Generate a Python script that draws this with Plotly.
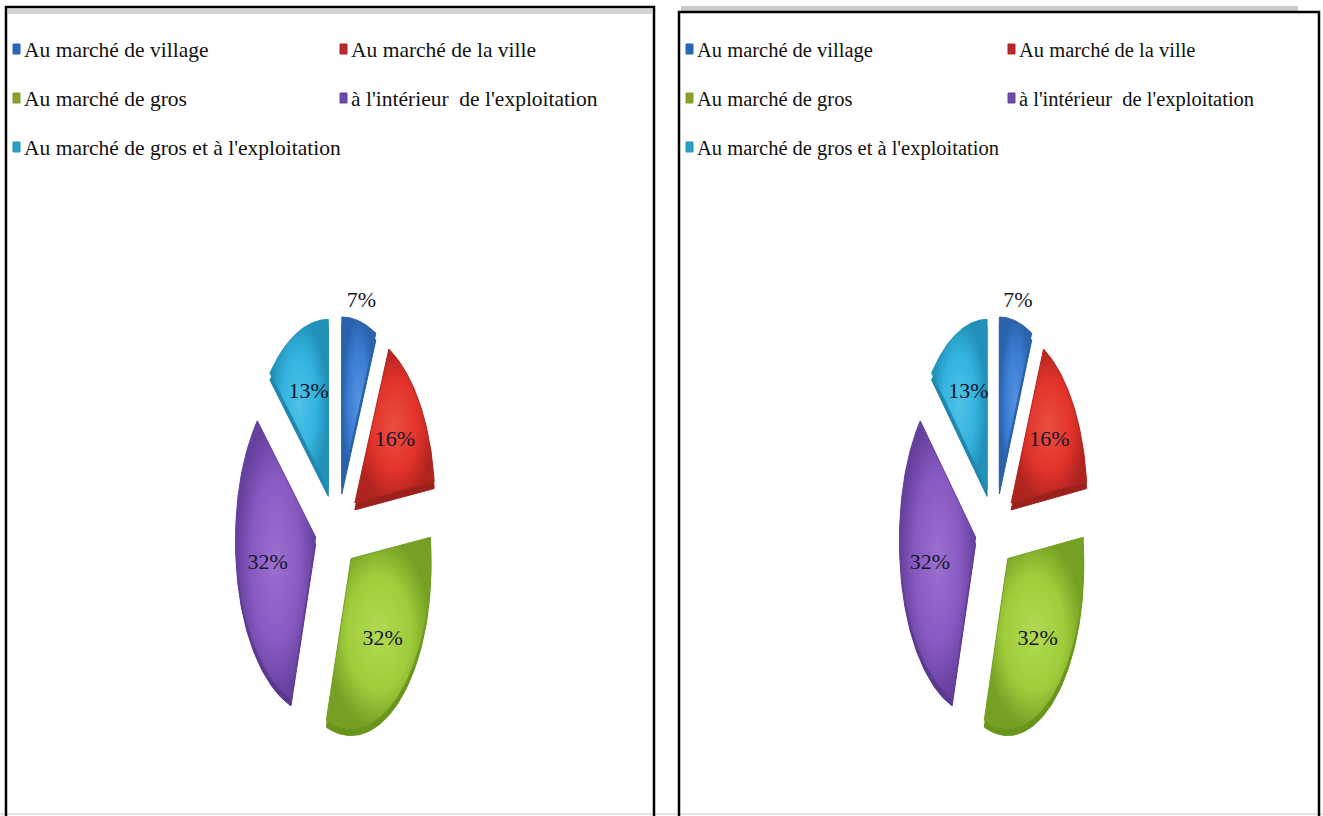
import numpy as np
import plotly.graph_objects as go

# ---- data -------------------------------------------------------------
categories = [
    "Au marché de village",
    "Au marché de la ville",
    "Au marché de gros",
    "à l'intérieur  de l'exploitation",
    "Au marché de gros et à l'exploitation",
]
shares = [7, 16, 32, 32, 13]

# ---- styling ----------------------------------------------------------
face_colors = ["#3b7dd4", "#e2332a", "#a0cd3b", "#885ac2", "#33b3de"]
light_colors = ["#5593e0", "#ea4e41", "#b2da52", "#9a70cf", "#4fc2e8"]
edge_colors = ["#2a62ac", "#b0241f", "#76a024", "#65409c", "#2290b8"]
side_colors = ["#2b5fa6", "#9c211c", "#6a951c", "#5a3890", "#2086ab"]
legend_colors = ["#2a66b8", "#b8282e", "#8e9e2e", "#6a4aa6", "#2aa2c8"]

W, H = 1323, 816
SERIF = "Liberation Serif, Times New Roman, serif"

# panel geometry in pixels
panels = [
    dict(dom=(0.0, 0.5), cx=337, cy=527, rx=80, ry=170, ex=22, ey=41,
         leg_x=(13, 340), leg_font=21.5),
    dict(dom=(0.5, 1.0), cx=995, cy=527, rx=76, ry=170, ex=20, ey=41,
         leg_x=(686, 1008), leg_font=20.5),
]
legend_rows_y = [49, 98, 147]
depth_px = 7

fig = go.Figure()
shapes, annotations = [], []


def px_x(x):
    return x / W


def px_y(y):
    return 1 - y / H


for k, p in enumerate(panels):
    suffix = "" if k == 0 else str(k + 1)
    xa, ya = "x" + suffix, "y" + suffix
    d0 = p["dom"][0] * W
    d1 = p["dom"][1] * W
    xr = [(d0 - p["cx"]) / p["rx"], (d1 - p["cx"]) / p["rx"]]
    yr = [-(H - p["cy"]) / p["ry"], p["cy"] / p["ry"]]
    fig.layout["xaxis" + suffix] = dict(domain=list(p["dom"]), range=xr,
                                        visible=False, fixedrange=True,
                                        anchor=ya)
    fig.layout["yaxis" + suffix] = dict(domain=[0, 1], range=yr,
                                        visible=False, fixedrange=True,
                                        anchor=xa)

    total = float(sum(shares))
    start = 0.0
    sides, faces, texts = [], [], []
    for i, v in enumerate(shares):
        t0 = 2 * np.pi * start / total
        t1 = 2 * np.pi * (start + v) / total
        mid = 0.5 * (t0 + t1)
        start += v
        ox = p["ex"] / p["rx"] * np.sin(mid)
        oy = p["ey"] / p["ry"] * np.cos(mid)
        th = np.linspace(t0, t1, 80)
        xs = np.concatenate([[ox], ox + np.sin(th), [ox]])
        ys = np.concatenate([[oy], oy + np.cos(th), [oy]])
        dz = depth_px / p["ry"]
        sides.append(go.Scatter(
            x=xs, y=ys - dz, xaxis=xa, yaxis=ya, mode="lines",
            fill="toself", fillcolor=side_colors[i],
            line=dict(color=side_colors[i], width=1),
            showlegend=False, hoverinfo="skip"))
        faces.append(go.Scatter(
            x=xs, y=ys, xaxis=xa, yaxis=ya, mode="lines",
            fill="toself",
            fillgradient=dict(type="radial",
                              colorscale=[[0, light_colors[i]],
                                          [0.6, face_colors[i]],
                                          [1, edge_colors[i]]]),
            line=dict(color=edge_colors[i], width=1),
            name=categories[i], showlegend=False,
            hovertemplate=categories[i] + ": %{customdata}%<extra></extra>",
            customdata=[v] * len(xs)))
        r = 1.12 if v < 10 else 0.62
        texts.append((ox + r * np.sin(mid), oy + r * np.cos(mid), f"{v}%"))

    for tr in sides + faces:
        fig.add_trace(tr)
    fig.add_trace(go.Scatter(
        x=[t[0] for t in texts], y=[t[1] for t in texts],
        text=[t[2] for t in texts], xaxis=xa, yaxis=ya, mode="text",
        textfont=dict(family=SERIF, size=22, color="#16162c"),
        showlegend=False, hoverinfo="skip"))

    # legend: two columns, three rows
    for i, name in enumerate(categories):
        col, row = i % 2, i // 2
        mx = p["leg_x"][col]
        my = legend_rows_y[row]
        shapes.append(dict(type="rect", xref="paper", yref="paper",
                           x0=px_x(mx), x1=px_x(mx + 7),
                           y0=px_y(my + 5), y1=px_y(my - 5),
                           fillcolor=legend_colors[i],
                           line=dict(color=edge_colors[i], width=1)))
        annotations.append(dict(xref="paper", yref="paper",
                                x=px_x(mx + 9), y=px_y(my + 1),
                                xanchor="left", yanchor="middle",
                                text=name, showarrow=False,
                                font=dict(family=SERIF, size=p["leg_font"],
                                          color="#111111")))

# panel frames and shading strips
frame = dict(color="#000000", width=2.5)
shapes += [
    dict(type="rect", xref="paper", yref="paper",
         x0=px_x(8), x1=px_x(652), y0=px_y(14), y1=px_y(9),
         fillcolor="#d4d4d4", line=dict(width=0), layer="below"),
    dict(type="rect", xref="paper", yref="paper",
         x0=px_x(681), x1=px_x(1298), y0=px_y(11), y1=px_y(6),
         fillcolor="#cacaca", line=dict(width=0), layer="below"),
    dict(type="line", xref="paper", yref="paper",
         x0=0, x1=1, y0=px_y(814), y1=px_y(814),
         line=dict(color="#e3e3e3", width=2), layer="below"),
    dict(type="rect", xref="paper", yref="paper",
         x0=px_x(6), x1=px_x(654), y0=px_y(7), y1=px_y(830),
         line=frame),
    dict(type="rect", xref="paper", yref="paper",
         x0=px_x(679), x1=px_x(1319), y0=px_y(12), y1=px_y(830),
         line=frame),
]

fig.update_layout(
    width=W, height=H,
    margin=dict(l=0, r=0, t=0, b=0),
    paper_bgcolor="white", plot_bgcolor="white",
    showlegend=False,
    shapes=shapes, annotations=annotations,
)

fig.write_html("out.html")
